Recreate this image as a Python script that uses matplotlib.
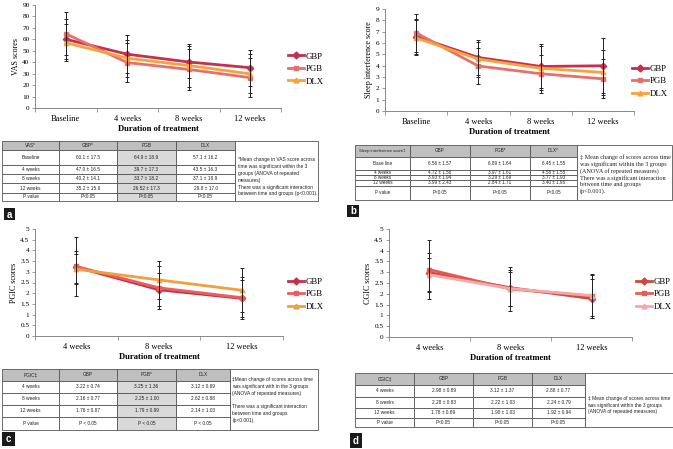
import matplotlib
matplotlib.use('Agg')
import matplotlib.pyplot as plt
from matplotlib.patches import Rectangle
from matplotlib.lines import Line2D

W, H = 673, 449
fig = plt.figure(figsize=(W / 100, H / 100), dpi=100)
SERIF = ['Liberation Serif', 'DejaVu Serif']
SANS = ['Liberation Sans', 'DejaVu Sans']

groups = ['GBP', 'PGB', 'DLX']
markers = ['D', 's', '^']

# ---------------- data ----------------
a_cats = ['Baseline', '4 weeks', '8 weeks', '12 weeks']
a_gbp = [60.1, 47.0, 40.2, 35.2]
a_gbp_sd = [17.5, 16.5, 14.1, 15.6]
a_pgb = [64.9, 39.7, 33.7, 26.52]
a_pgb_sd = [18.9, 17.3, 18.2, 17.3]
a_dlx = [57.1, 43.5, 37.1, 29.8]
a_dlx_sd = [16.2, 16.3, 18.9, 17.0]

b_cats = ['Baseline', '4 weeks', '8 weeks', '12 weeks']
b_gbp = [6.56, 4.72, 3.93, 3.99]
b_gbp_sd = [1.57, 1.56, 1.94, 2.43]
b_pgb = [6.89, 3.97, 3.29, 2.84]
b_pgb_sd = [1.64, 1.61, 1.69, 1.71]
b_dlx = [6.45, 4.58, 3.77, 3.40]
b_dlx_sd = [1.55, 1.55, 1.93, 1.96]

c_cats = ['4 weeks', '8 weeks', '12 weeks']
c_gbp = [3.22, 2.16, 1.76]
c_gbp_sd = [0.74, 0.77, 0.87]
c_pgb = [3.25, 2.25, 1.79]
c_pgb_sd = [1.36, 1.00, 0.99]
c_dlx = [3.12, 2.62, 2.14]
c_dlx_sd = [0.69, 0.88, 1.03]

d_cats = ['4 weeks', '8 weeks', '12 weeks']
d_gbp = [2.98, 2.28, 1.78]
d_gbp_sd = [0.89, 0.83, 0.89]
d_pgb = [3.12, 2.22, 1.90]
d_pgb_sd = [1.37, 1.03, 1.03]
d_dlx = [2.88, 2.24, 1.92]
d_dlx_sd = [0.77, 0.79, 0.94]

a_yticks = list(range(0, 91, 10))
b_yticks = list(range(0, 10))
cd_yticks = [0, 0.5, 1, 1.5, 2, 2.5, 3, 3.5, 4, 4.5, 5]

colors_ab = ['#C43050', '#E8706A', '#F5A33A']
colors_c = ['#C8304A', '#E8605E', '#F0A040']
colors_d = ['#D04840', '#E25C55', '#F4A9A6']


def rect(x0, y0, x1, y1):
    return [x0 / W, 1 - y1 / H, (x1 - x0) / W, (y1 - y0) / H]


def chart(box, cats, means, sds, colors, yticks, ylabel, leg_x, leg_y):
    ax = fig.add_axes(rect(*box))
    x = list(range(len(cats)))
    handles = []
    for m, s, c, mk, name in zip(means, sds, colors, markers, groups):
        ax.plot(x, m, color=c, lw=2.0, marker=mk, ms=3.2, zorder=3)
        ax.errorbar(x, m, yerr=s, fmt='none', ecolor='#222222', elinewidth=0.7,
                    capsize=1.6, capthick=0.7, zorder=4)
        handles.append(Line2D([], [], color=c, lw=2.0, marker=mk, ms=3.5, label=name))
    ax.set_xlim(-0.5, len(cats) - 0.5)
    ax.set_ylim(yticks[0], yticks[-1])
    ax.set_yticks(yticks)
    ax.set_yticklabels([f'{t:g}' for t in yticks], fontsize=5.2, family=SERIF)
    ax.set_xticks(x)
    ax.set_xticklabels(cats, fontsize=6, family=SERIF)
    ax.set_xticks([i - 0.5 for i in range(len(cats) + 1)], minor=True)
    ax.tick_params(axis='x', which='major', length=0, pad=5)
    ax.tick_params(axis='x', which='minor', length=3, color='#888888', width=0.6)
    ax.tick_params(axis='y', length=2.5, color='#888888', width=0.6, pad=1.5)
    for sp in ['top', 'right']:
        ax.spines[sp].set_visible(False)
    for sp in ['left', 'bottom']:
        ax.spines[sp].set_color('#888888')
        ax.spines[sp].set_linewidth(0.7)
    ax.set_ylabel(ylabel, fontsize=5.8, family=SERIF, labelpad=2)
    ax.set_xlabel('Duration of treatment', fontsize=6.2, family=SERIF,
                  fontweight='bold', labelpad=1.5)
    ax.legend(handles=handles, loc='center left',
              bbox_to_anchor=(leg_x / W, 1 - leg_y / H), bbox_transform=fig.transFigure,
              frameon=False, prop={'family': SERIF, 'size': 6.3}, handlelength=1.8,
              handletextpad=0.2, labelspacing=0.5, borderaxespad=0, borderpad=0)
    return ax


chart((35, 5, 281, 108), a_cats, [a_gbp, a_pgb, a_dlx], [a_gbp_sd, a_pgb_sd, a_dlx_sd],
      colors_ab, a_yticks, 'VAS scores', 288, 69)
chart((385, 9, 634, 111), b_cats, [b_gbp, b_pgb, b_dlx], [b_gbp_sd, b_pgb_sd, b_dlx_sd],
      colors_ab, b_yticks, 'Sleep interference score', 632, 81)
chart((35, 229, 283, 336), c_cats, [c_gbp, c_pgb, c_dlx], [c_gbp_sd, c_pgb_sd, c_dlx_sd],
      colors_c, cd_yticks, 'PGIC scores', 288, 294)
chart((389, 229, 632, 337), d_cats, [d_gbp, d_pgb, d_dlx], [d_gbp_sd, d_pgb_sd, d_dlx_sd],
      colors_d, cd_yticks, 'CGIC scores', 636, 294)

# ---------------- tables ----------------
bg = fig.add_axes([0, 0, 1, 1], zorder=-1)
bg.set_xlim(0, W)
bg.set_ylim(H, 0)
bg.axis('off')


def fmt1(v):
    return str(v)


def fmt2(v):
    return f'{v:.2f}'


def table(cols, rows, header, labels, means, sds, pvals, f, shade, notes,
          note_font, note_size, note_y, note_ls, cell_size=3.4, head0_size=3.4):
    for j in range(4):
        for i in range(len(rows) - 1):
            if i == 0:
                fc = '#BFBFBF'
            elif shade is not None and j == shade:
                fc = '#D9D9D9'
            else:
                fc = 'white'
            bg.add_patch(Rectangle((cols[j], rows[i]), cols[j + 1] - cols[j],
                                   rows[i + 1] - rows[i], facecolor=fc,
                                   edgecolor='#555555', lw=0.6))
            cx = (cols[j] + cols[j + 1]) / 2
            cy = (rows[i] + rows[i + 1]) / 2
            fs = cell_size
            if i == 0:
                s = header[j]
                if j == 0:
                    fs = head0_size
            elif i == len(rows) - 2:
                s = labels[-1] if j == 0 else pvals[j - 1]
            else:
                k = i - 1
                s = labels[k] if j == 0 else f'{f(means[j - 1][k])} ± {f(sds[j - 1][k])}'
            bg.text(cx, cy, s, ha='center', va='center', fontsize=fs, family=SANS,
                    color='#222222')
    bg.add_patch(Rectangle((cols[4], rows[0]), cols[5] - cols[4], rows[-1] - rows[0],
                           facecolor='white', edgecolor='#555555', lw=0.6))
    bg.text(cols[4] + 2.5, note_y, notes, ha='left', va='center', fontsize=note_size,
            family=note_font, color='#222222', linespacing=note_ls)


def label_box(x0, y0, x1, y1, s):
    bg.add_patch(Rectangle((x0, y0), x1 - x0, y1 - y0, facecolor='#1A1A1A',
                           edgecolor='none'))
    bg.text((x0 + x1) / 2, (y0 + y1) / 2 + 0.5, s, ha='center', va='center',
            color='white', fontsize=7, fontweight='bold', family=SANS)


table([2, 59, 117, 176, 235, 318], [141, 150, 165, 174, 183, 193, 201],
      ['VAS*', 'GBP*', 'PGB', 'DLX'], a_cats + ['P value'],
      [a_gbp, a_pgb, a_dlx], [a_gbp_sd, a_pgb_sd, a_dlx_sd],
      ['P<0.05', 'P<0.05', 'P<0.05'], fmt1, 2,
      '*Mean change in VAS score across\ntime was significant within the 3\n'
      'groups (ANOVA of repeated\nmeasures)\nThere was a significant interaction\n'
      'between time and groups (p<0.001).', SANS, 3.5, 177, 1.45)
label_box(4, 208, 15, 220, 'a')

table([355, 410, 470, 530, 577, 672], [145, 157, 170, 175, 180, 186, 200],
      ['Sleep interference score‡', 'GBP', 'PGB*', 'DLX*'],
      ['Base line', '4 weeks', '8 weeks', '12 weeks', 'P value'],
      [b_gbp, b_pgb, b_dlx], [b_gbp_sd, b_pgb_sd, b_dlx_sd],
      ['P<0.05', 'P<0.05', 'P<0.05'], fmt2, None,
      '‡ Mean change of scores across time\nwas significant within the 3 groups\n'
      '(ANOVA of repeated measures)\nThere was a significant interaction\n'
      'between time and groups\n(p<0.001).', SERIF, 4.4, 174, 1.25,
      cell_size=3.3, head0_size=3.0)
label_box(347, 205, 359, 217, 'b')

table([2, 59, 117, 176, 230, 318], [369, 381, 393, 405, 417, 430],
      ['PGIC‡', 'GBP', 'PGB*', 'DLX'], c_cats + ['P value'],
      [c_gbp, c_pgb, c_dlx], [c_gbp_sd, c_pgb_sd, c_dlx_sd],
      ['P < 0.05', 'P < 0.05', 'P < 0.05'], fmt2, 2,
      '‡Mean change of scores across time\nwas significant with in the 3 groups\n'
      '(ANOVA of repeated measures)\n\nThere was a significant interaction\n'
      'between time and groups\n(p<0.001).', SANS, 3.5, 400, 1.45)
label_box(2, 432, 15, 446, 'c')

table([355, 414, 473, 532, 585, 673], [373, 385, 397, 408, 418, 427],
      ['CGIC‡', 'GBP', 'PGB', 'DLX'], d_cats + ['P value'],
      [d_gbp, d_pgb, d_dlx], [d_gbp_sd, d_pgb_sd, d_dlx_sd],
      ['P<0.05', 'P<0.05', 'P<0.05'], fmt2, None,
      '‡ Mean change of scores across time\nwas significant within the 3 groups\n'
      '(ANOVA of repeated measures)', SANS, 3.5, 405, 1.45)
label_box(350, 433, 362, 448, 'd')

fig.savefig('out.png', dpi=100)
